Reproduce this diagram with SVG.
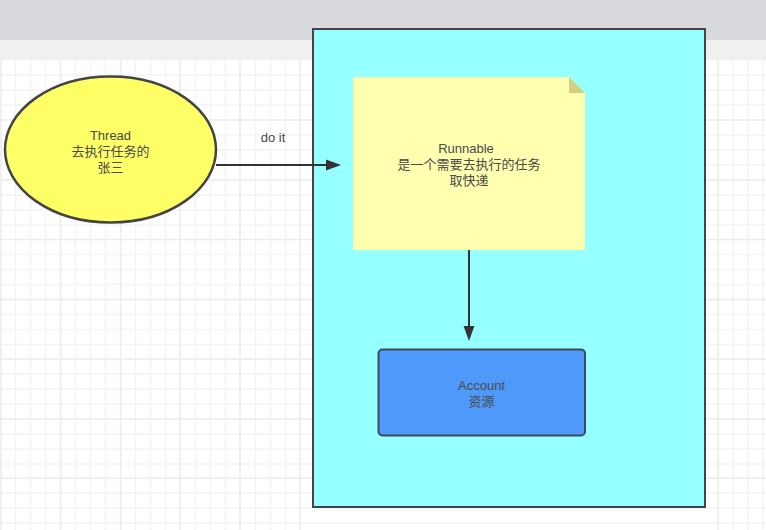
<svg xmlns="http://www.w3.org/2000/svg" width="766" height="530" viewBox="0 0 766 530">
  <style>
    text { font-family: "Liberation Sans", "Noto Sans CJK SC", sans-serif; font-size: 13px; fill: #4a4a4a; text-anchor: middle; }
    .edge { fill: none; stroke: #333; stroke-width: 2; }
    .minor { fill: none; stroke: #f4f4f4; stroke-width: 1.5; }
    .major { fill: none; stroke: #ececec; stroke-width: 1.5; }
  </style>
  <defs>
    <marker id="head" markerUnits="userSpaceOnUse" markerWidth="16" markerHeight="12" refX="8" refY="6" orient="auto">
      <path d="M0 0.6L15 6L0 11.4Z" fill="#333"/>
    </marker>
  </defs>
  <g id="background">
    <rect width="766" height="530" fill="#ffffff"/>
    <path class="minor" d="M15.500 60V530M30.500 60V530M45.500 60V530M75.500 60V530M90.500 60V530M105.500 60V530M135.500 60V530M150.500 60V530M165.500 60V530M195.500 60V530M210.500 60V530M225.500 60V530M255.500 60V530M270.500 60V530M285.500 60V530M733 60V530M748 60V530M763 60V530M0 75H766M0 90H766M0 105H766M0 135H766M0 150H766M0 165H766M0 195H766M0 210H766M0 225H766M0 254.500H766M0 269.500H766M0 284.500H766M0 314.500H766M0 329.500H766M0 344.500H766M0 374H766M0 389H766M0 404H766M0 434H766M0 449H766M0 464H766M0 493H766M0 508H766M0 523H766"/>
    <path class="major" d="M1 60V530M60.500 60V530M120.500 60V530M180 60V530M240 60V530M300 60V530M718 60V530M0 120H766M0 180H766M0 239.500H766M0 299.500H766M0 359H766M0 419H766M0 478H766"/>
    <rect width="766" height="40" fill="#d9dadd"/>
    <rect y="40" width="766" height="20" fill="#f0f0f0"/>
  </g>
  <g id="container">
    <rect x="313" y="29" width="392" height="478" fill="#96ffff" stroke="#444" stroke-width="2"/>
  </g>
  <g id="thread">
    <ellipse cx="110.500" cy="149.500" rx="105.500" ry="73" fill="#ffff66" stroke="#444" stroke-width="2.500"/>
    <text x="110.500" y="140">Thread</text>
    <text x="110.500" y="156">去执行任务的</text>
    <text x="110.500" y="172">张三</text>
  </g>
  <g id="runnable">
    <path d="M353 77H569L585 93V250H353Z" fill="#ffffb0"/>
    <path d="M569 77L585 93H569Z" fill="#d2cf7e"/>
    <text x="466" y="153">Runnable</text>
    <text x="469" y="169">是一个需要去执行的任务</text>
    <text x="469" y="185">取快递</text>
  </g>
  <g id="account">
    <rect x="378.500" y="349.500" width="206.500" height="86" rx="4" fill="#4e99f9" stroke="#3f4a5a" stroke-width="2"/>
    <text x="481.500" y="390">Account</text>
    <text x="481.500" y="406">资源</text>
  </g>
  <g id="connectors">
    <path class="edge" d="M216 165H334" marker-end="url(#head)"/>
    <path class="edge" d="M469 250V334" marker-end="url(#head)"/>
    <text x="273" y="142">do it</text>
  </g>
</svg>
